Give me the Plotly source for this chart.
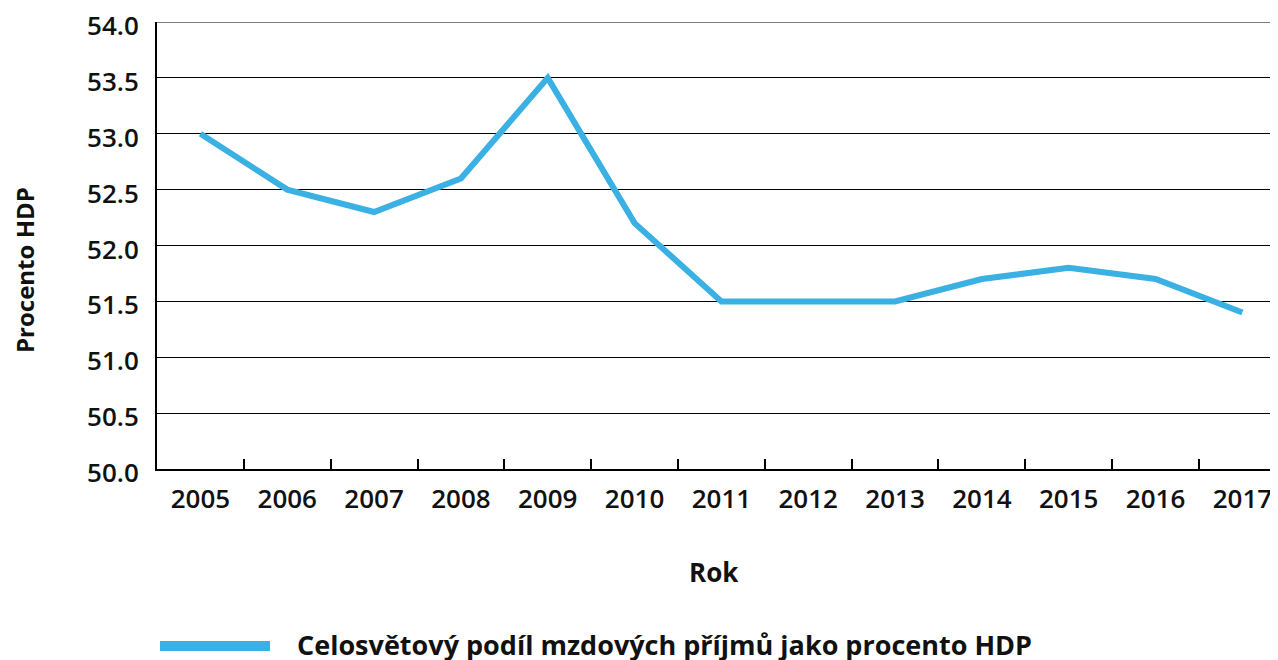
import plotly.graph_objects as go

years = ["2005", "2006", "2007", "2008", "2009", "2010", "2011", "2012", "2013", "2014", "2015", "2016", "2017"]
share = [53.0, 52.5, 52.3, 52.6, 53.5, 52.2, 51.5, 51.5, 51.5, 51.7, 51.8, 51.7, 51.4]
series_name = "Celosvětový podíl mzdových příjmů jako procento HDP"
y_ticks = [50.0, 50.5, 51.0, 51.5, 52.0, 52.5, 53.0, 53.5, 54.0]

LINE = "#3AB0E3"
FONT = "Open Sans"

# page body has an 8px margin, so compensate
OFF = 8
PL, PT, PW, PH = 157 - OFF, 22 - OFF, 1121, 447


def px(x):  # page pixel x -> paper
    return (x - 157) / PW


def py(y):  # page pixel y -> paper
    return (22 + PH - y) / PH


fig = go.Figure()
fig.add_trace(go.Scatter(x=years, y=share, mode="lines", name=series_name,
                         line=dict(color=LINE, width=6), showlegend=False))

fig.update_layout(
    width=1278 - OFF, height=660 - OFF,
    margin=dict(l=PL, r=0, t=PT, b=660 - OFF - PT - PH, pad=0, autoexpand=False),
    paper_bgcolor="white", plot_bgcolor="white",
    font=dict(family=FONT, size=26, color="#111", weight=600),
    xaxis=dict(
        type="category", range=[-0.5, 12.41], automargin=False,
        showline=True, linecolor="black", linewidth=2,
        ticks="inside", tickson="boundaries", ticklen=10, tickwidth=2, tickcolor="black",
        showgrid=False, ticklabelstandoff=6,
    ),
    yaxis=dict(
        range=[y_ticks[0], y_ticks[-1]], tickvals=y_ticks, ticktext=[f"{v:.1f}" for v in y_ticks],
        automargin=False,
        showline=True, linecolor="black", linewidth=2,
        showgrid=True, gridcolor="black", gridwidth=1,
        ticks="", ticklabelstandoff=11, ticklabelshift=4, ticklabeloverflow="allow",
        zeroline=False,
    ),
)

# top gridline (plotly skips the grid line at the range edge)
fig.add_shape(type="line", xref="paper", yref="y", x0=0, x1=1,
              y0=y_ticks[-1], y1=y_ticks[-1], line=dict(color="black", width=1))

# axis titles
fig.add_annotation(text="Rok", xref="paper", yref="paper", x=px(714), y=py(572),
                   xanchor="center", yanchor="middle", showarrow=False,
                   font=dict(family=FONT, size=26, weight=700, color="#111"))
fig.add_annotation(text="Procento HDP", xref="paper", yref="paper", x=px(24), y=py(270),
                   xanchor="center", yanchor="middle", showarrow=False, textangle=-90,
                   font=dict(family=FONT, size=24, weight=700, color="#111"))

# legend
fig.add_shape(type="line", xref="paper", yref="paper",
              x0=px(160), x1=px(270), y0=py(646), y1=py(646),
              line=dict(color=LINE, width=10))
fig.add_annotation(text=series_name, xref="paper", yref="paper",
                   x=px(295), y=py(644),
                   xanchor="left", yanchor="middle", showarrow=False,
                   font=dict(family=FONT, size=27, weight=700, color="#111"))

fig.write_html("out.html")
